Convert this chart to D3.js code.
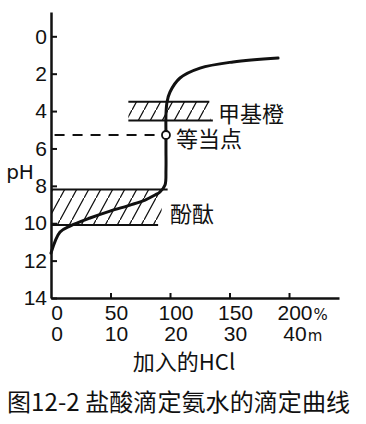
<!DOCTYPE html>
<html>
<head>
<meta charset="utf-8">
<script src="https://cdn.jsdelivr.net/npm/d3@7"></script>
<style>
  body { margin: 0; background: #fff; }
  text { fill: #111; }
</style>
</head>
<body>
<div class="chart"></div>
<script>
// titration curve: added HCl (%) vs pH
var curveX  = [0, 7.6, 16, 32.8, 49.6, 66.4, 79, 87.4, 91.6, 95.8, 96.6, 96.6, 96.6, 96.6, 97.5, 100, 108.4, 125.2, 153, 190.8];
var curvePH = [11.6, 10.47, 10.15, 9.72, 9.35, 9.03, 8.76, 8.49, 8.33, 7.96, 7.15, 6.08, 5.28, 4.21, 3.51, 2.98, 2.23, 1.7, 1.37, 1.16];

// equivalence point
var eqX = 96.6;
var eqPH = 5.28;

// indicator ranges
var bandNames = ["甲基橙", "酚酞"];
var bandLo    = [3.5, 8.2];
var bandHi    = [4.5, 10.1];
var bandFrom  = [65, 0];
var bandTo    = [134, 93];
var bandTopTo = [133, 98];
var bandBotTo = [136, 90];

// ticks
var yTicks = [0, 2, 4, 6, 8, 10, 12, 14];
var pctTicks = [0, 50, 100, 150, 200];
var mlTicks = [0, 10, 20, 30, 40];

var svgWidth = 366;
var svgHeight = 424;

var svg = d3.select(".chart")
  .append("svg")
  .attr("width", svgWidth)
  .attr("height", svgHeight);

var x = d3.scaleLinear().domain([0, 242]).range([51, 339]);
var xMl = d3.scaleLinear().domain([0, 242 / 5]).range([51, 339]);
var y = d3.scaleLinear().domain([-1.3, 14]).range([12, 298]);

// hatch pattern
var pw = 12, ph = 22;
svg.append("defs").append("pattern")
  .attr("id", "hatch")
  .attr("patternUnits", "userSpaceOnUse")
  .attr("width", pw)
  .attr("height", ph)
  .append("path")
  .attr("d", `M0,${ph} L${pw},0 M${-pw},${2 * ph} L0,${ph} M${pw},0 L${2 * pw},${-ph}`)
  .attr("stroke", "#111")
  .attr("stroke-width", 1.3);

// bands
bandNames.forEach(function(name, i) {
  svg.append("rect")
    .attr("x", x(bandFrom[i]))
    .attr("y", y(bandLo[i]))
    .attr("width", x(bandTo[i]) - x(bandFrom[i]))
    .attr("height", y(bandHi[i]) - y(bandLo[i]))
    .attr("fill", "url(#hatch)");
  svg.append("line")
    .attr("x1", x(bandFrom[i])).attr("x2", x(bandTopTo[i]))
    .attr("y1", y(bandLo[i])).attr("y2", y(bandLo[i]))
    .attr("stroke", "#111").attr("stroke-width", 2);
  svg.append("line")
    .attr("x1", x(bandFrom[i])).attr("x2", x(bandBotTo[i]))
    .attr("y1", y(bandHi[i])).attr("y2", y(bandHi[i]))
    .attr("stroke", "#111").attr("stroke-width", 2);
});

// axes
var leftAxis = d3.axisLeft(y)
  .tickValues(yTicks)
  .tickSizeInner(-6)
  .tickSizeOuter(0)
  .tickPadding(4);

var yAxis = svg.append("g")
  .attr("transform", `translate(${x(0)},0)`)
  .call(leftAxis);
yAxis.select(".domain").attr("stroke", "#111").attr("stroke-width", 2.5);
yAxis.selectAll(".tick line").attr("stroke", "#111").attr("stroke-width", 2);
yAxis.selectAll(".tick text")
  .attr("font-family", "Liberation Sans")
  .attr("font-size", 21)
  .attr("fill", "#111");

var bottomAxis = d3.axisBottom(x)
  .tickValues(pctTicks.slice(1))
  .tickSizeInner(-5)
  .tickSizeOuter(0)
  .tickFormat("");

var xAxis = svg.append("g")
  .attr("transform", `translate(0,${y(14)})`)
  .call(bottomAxis);
xAxis.select(".domain").attr("stroke", "#111").attr("stroke-width", 2.5);
xAxis.selectAll(".tick line").attr("stroke", "#111").attr("stroke-width", 2);

// x labels, two rows
function labelRow(values, scale, baseline, suffix) {
  values.forEach(function(v, i) {
    var t = svg.append("text")
      .attr("x", scale(v) + 6)
      .attr("y", baseline)
      .attr("text-anchor", "middle")
      .attr("font-family", "Liberation Sans")
      .attr("font-size", 21)
      .text(v);
    if (i === values.length - 1) {
      var w = t.node().getComputedTextLength();
      svg.append("text")
        .attr("x", scale(v) + 6 + w / 2 + 1)
        .attr("y", baseline)
        .attr("font-family", "DejaVu Sans")
        .attr("font-size", 15)
        .text(suffix);
    }
  });
}
labelRow(pctTicks, x, 320, "%");
labelRow(mlTicks, xMl, 341, "m");

// dashed line to equivalence point
svg.append("line")
  .attr("x1", x(3)).attr("x2", x(eqX) - 4)
  .attr("y1", y(eqPH)).attr("y2", y(eqPH))
  .attr("stroke", "#111")
  .attr("stroke-width", 2)
  .attr("stroke-dasharray", "10,8");

// the curve
var pts = curveX.map(function(v, i) { return [v, curvePH[i]]; });
var line = d3.line()
  .x(d => x(d[0]))
  .y(d => y(d[1]))
  .curve(d3.curveCatmullRom.alpha(0.5));

svg.append("path")
  .datum(pts)
  .attr("d", line)
  .attr("fill", "none")
  .attr("stroke", "#111")
  .attr("stroke-width", 3)
  .attr("stroke-linecap", "round");

svg.append("circle")
  .attr("cx", x(eqX))
  .attr("cy", y(eqPH))
  .attr("r", 4)
  .attr("fill", "#fff")
  .attr("stroke", "#111")
  .attr("stroke-width", 1.8);

// annotations
var cjk = "Noto Sans CJK SC";
svg.append("text")
  .attr("x", 218).attr("y", y(bandLo[0]) + 10)
  .attr("dominant-baseline", "central")
  .attr("font-family", cjk).attr("font-size", 22)
  .text(bandNames[0]);
svg.append("text")
  .attr("x", 176).attr("y", y(eqPH) + 2)
  .attr("dominant-baseline", "central")
  .attr("font-family", cjk).attr("font-size", 22)
  .text("等当点");
svg.append("text")
  .attr("x", 170).attr("y", 212)
  .attr("dominant-baseline", "central")
  .attr("font-family", cjk).attr("font-size", 22)
  .text(bandNames[1]);

svg.append("text")
  .attr("x", 20).attr("y", 172)
  .attr("text-anchor", "middle")
  .attr("dominant-baseline", "central")
  .attr("font-family", "DejaVu Sans")
  .attr("font-size", 20)
  .text("pH");

svg.append("text")
  .attr("x", 184).attr("y", 360)
  .attr("text-anchor", "middle")
  .attr("dominant-baseline", "central")
  .attr("font-family", cjk).attr("font-size", 22)
  .text("加入的HCl");

svg.append("text")
  .attr("x", 7).attr("y", 400)
  .attr("dominant-baseline", "central")
  .attr("font-family", cjk).attr("font-size", 24)
  .attr("textLength", 343)
  .attr("lengthAdjust", "spacing")
  .text("图12-2 盐酸滴定氨水的滴定曲线");
</script>
</body>
</html>
